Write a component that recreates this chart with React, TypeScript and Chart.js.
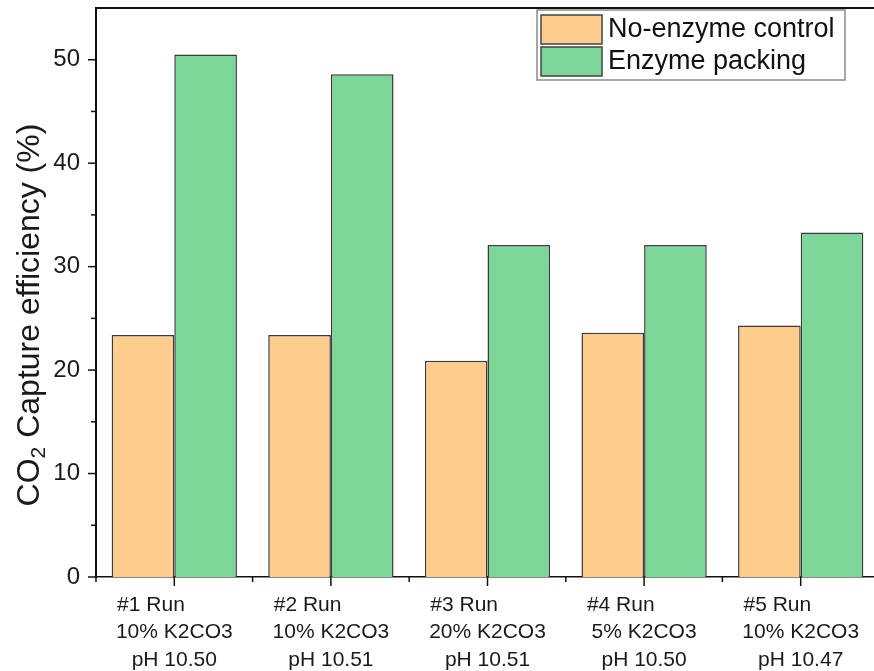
import React, { useEffect, useRef } from "react";
import { Chart, registerables } from "chart.js";

Chart.register(...registerables);

const runLabels = ["#1 Run", "#2 Run", "#3 Run", "#4 Run", "#5 Run"];
const concentrations = ["10% K2CO3", "10% K2CO3", "20% K2CO3", "5% K2CO3", "10% K2CO3"];
const phValues = ["pH 10.50", "pH 10.51", "pH 10.51", "pH 10.50", "pH 10.47"];
const seriesNames = ["No-enzyme control", "Enzyme packing"];
const noEnzymeControl = [23.4, 23.4, 20.9, 23.6, 24.3];
const enzymePacking = [50.5, 48.6, 32.1, 32.1, 33.3];
const yMajorTicks = [0, 10, 20, 30, 40, 50];
const yMinorTicks = [5, 15, 25, 35, 45];
const yAxisMax = 55;

const FONT = "'Liberation Sans', Arial, sans-serif";
const ORANGE = "#FECC8D";
const GREEN = "#7BD697";

const axisDecor = {
  id: "axisDecor",
  afterDatasetsDraw(chart: any) {
    const { ctx, chartArea: a, scales } = chart;
    const x = scales.x;
    const y = scales.y;
    const seg = (x1: number, y1: number, x2: number, y2: number) => {
      ctx.beginPath();
      ctx.moveTo(x1, y1);
      ctx.lineTo(x2, y2);
      ctx.stroke();
    };
    ctx.save();
    ctx.strokeStyle = "#111";
    ctx.lineWidth = 2;
    seg(a.left - 1, a.top, a.right, a.top);
    ctx.lineWidth = 1.5;
    yMajorTicks.forEach((v) => {
      const py = y.getPixelForValue(v);
      seg(a.left - 8, py, a.left, py);
    });
    yMinorTicks.forEach((v) => {
      const py = y.getPixelForValue(v);
      seg(a.left - 5, py, a.left, py);
    });
    runLabels.forEach((_, i) => {
      const px = x.getPixelForValue(i);
      seg(px, a.bottom, px, a.bottom + 9);
      const pb = x.getPixelForValue(i - 0.5);
      seg(pb, a.bottom, pb, a.bottom + 5);
    });
    ctx.restore();
  },
};

const yTitlePlugin = {
  id: "yTitle",
  afterDraw(chart: any) {
    const { ctx } = chart;
    ctx.save();
    ctx.translate(30, 315);
    ctx.rotate(-Math.PI / 2);
    ctx.fillStyle = "#1a1a1a";
    ctx.textBaseline = "middle";
    ctx.textAlign = "left";
    const big = `32px ${FONT}`;
    const small = `21px ${FONT}`;
    const p1 = "CO";
    const p2 = "2";
    const p3 = " Capture efficiency (%)";
    ctx.font = big;
    const w1 = ctx.measureText(p1).width;
    const w3 = ctx.measureText(p3).width;
    ctx.font = small;
    const w2 = ctx.measureText(p2).width;
    let sx = -(w1 + w2 + w3) / 2;
    ctx.font = big;
    ctx.fillText(p1, sx, 0);
    sx += w1;
    ctx.font = small;
    ctx.fillText(p2, sx, 9);
    sx += w2;
    ctx.font = big;
    ctx.fillText(p3, sx, 0);
    ctx.restore();
  },
};

const legendPlugin = {
  id: "boxLegend",
  afterDraw(chart: any) {
    const { ctx } = chart;
    const bx = 537, by = 10, bw = 308, bh = 70;
    ctx.save();
    ctx.fillStyle = "#ffffff";
    ctx.fillRect(bx, by, bw, bh);
    ctx.strokeStyle = "#8a8a8a";
    ctx.lineWidth = 1.5;
    ctx.strokeRect(bx, by, bw, bh);
    chart.data.datasets.forEach((ds: any, i: number) => {
      const sy = by + 5 + i * 32;
      ctx.fillStyle = ds.backgroundColor;
      ctx.fillRect(bx + 4, sy, 61, 29);
      ctx.strokeStyle = "#444";
      ctx.lineWidth = 1.5;
      ctx.strokeRect(bx + 4, sy, 61, 29);
      ctx.fillStyle = "#111";
      ctx.font = `27px ${FONT}`;
      ctx.textBaseline = "middle";
      ctx.textAlign = "left";
      ctx.fillText(ds.label, bx + 71, sy + 15);
    });
    ctx.restore();
  },
};

export default function App() {
  const ref = useRef<HTMLCanvasElement | null>(null);

  useEffect(() => {
    if (!ref.current) return;
    const labels = runLabels.map((r, i) => [r + "        ", concentrations[i], phValues[i]]);
    const chart = new Chart(ref.current, {
      type: "bar",
      data: {
        labels,
        datasets: [
          {
            label: seriesNames[0],
            data: noEnzymeControl,
            backgroundColor: ORANGE,
            borderColor: "#3a3a3a",
            borderWidth: 1.5,
            categoryPercentage: 0.8,
            barPercentage: 1.0,
          },
          {
            label: seriesNames[1],
            data: enzymePacking,
            backgroundColor: GREEN,
            borderColor: "#3a3a3a",
            borderWidth: 1.5,
            categoryPercentage: 0.8,
            barPercentage: 1.0,
          },
        ],
      },
      options: {
        responsive: false,
        animation: false,
        devicePixelRatio: 1,
        layout: { padding: { top: 8, right: 5, left: 0, bottom: 0 } },
        plugins: {
          legend: { display: false },
          tooltip: { enabled: false },
        },
        scales: {
          x: {
            type: "category",
            offset: true,
            grid: { display: false, drawTicks: false },
            border: { display: true, color: "#111", width: 1.5 },
            ticks: {
              color: "#1a1a1a",
              font: { family: FONT, size: 21, lineHeight: 1.29 },
              padding: 15,
              maxRotation: 0,
              minRotation: 0,
              autoSkip: false,
            },
            afterFit(scale: any) {
              scale.height = 94;
              scale.paddingLeft = 0;
              scale.paddingRight = 0;
            },
          },
          y: {
            min: 0,
            max: yAxisMax,
            grid: { display: false, drawTicks: false },
            border: { display: true, color: "#111", width: 2 },
            afterBuildTicks(scale: any) {
              scale.ticks = yMajorTicks.map((v) => ({ value: v }));
            },
            ticks: {
              color: "#1a1a1a",
              font: { family: FONT, size: 24 },
              padding: 16,
            },
            afterFit(scale: any) {
              scale.width = 96;
              scale.paddingTop = 0;
              scale.paddingBottom = 0;
            },
          },
        },
      },
      plugins: [axisDecor, yTitlePlugin, legendPlugin],
    });
    return () => chart.destroy();
  }, []);

  return (
    <div
      style={{
        position: "fixed",
        left: 0,
        top: 0,
        width: 874,
        height: 671,
        overflow: "hidden",
        background: "#ffffff",
      }}
    >
      <canvas ref={ref} width={884} height={671} style={{ display: "block" }} />
    </div>
  );
}
